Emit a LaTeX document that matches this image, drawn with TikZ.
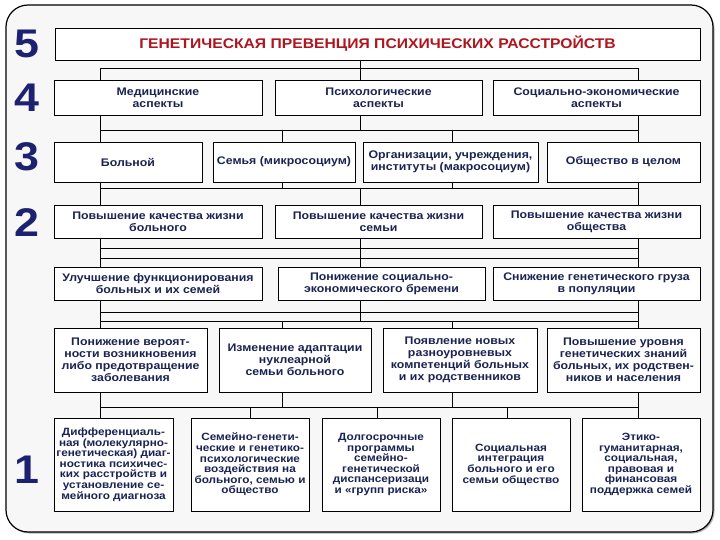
\documentclass[tikz,border=0pt]{standalone}
\usepackage{fontspec}
\setmainfont{Liberation Sans}[FakeStretch=1.12]
\usetikzlibrary{shadows}
\definecolor{navy}{HTML}{1A2352}
\definecolor{numblue}{HTML}{1C2270}
\definecolor{titlered}{HTML}{B0141E}

\begin{document}
\begin{tikzpicture}[x=1pt,y=-1pt,
  box/.style={draw=black, line width=0.7pt, fill=white, text=navy, align=center, inner sep=1pt,
    font=\bfseries\fontsize{11}{12}\selectfont,
    drop shadow={shadow xshift=1.2pt, shadow yshift=-1.2pt, fill=black!40, opacity=1}},
  small/.style={font=\bfseries\fontsize{10.5}{10.6}\selectfont},
  bus/.style={line width=0.8pt},
  lvl/.style={text=numblue, font=\bfseries\fontsize{40}{40}\selectfont}]

  \fill[white] (0,0) rectangle (720,540);
  \useasboundingbox (0,0) rectangle (720,540);
  \draw[line width=1.2pt, rounded corners=22pt, fill=black!3,
    drop shadow={shadow xshift=1.5pt, shadow yshift=-1.5pt, fill=black!30, opacity=1}] (6,5) rectangle (713,532);

  \node[lvl] (n5) at (27,44) {5};
  \node[lvl] (n4) at (27,98) {4};
  \node[lvl] (n3) at (27,157) {3};
  \node[lvl] (n2) at (27,223) {2};
  \node[lvl] (n1) at (27,470) {1};

  \node[box, minimum width=645pt, minimum height=32pt, text=titlered, font=\bfseries\fontsize{14}{14}\selectfont] (title) at (377.5,44)
    {ГЕНЕТИЧЕСКАЯ ПРЕВЕНЦИЯ ПСИХИЧЕСКИХ РАССТРОЙСТВ};

  \node[box, minimum width=208pt, minimum height=35pt] (med) at (158,97.5) {Медицинские\\аспекты};
  \node[box, minimum width=207pt, minimum height=35pt] (psy) at (378.5,97.5) {Психологические\\аспекты};
  \node[box, minimum width=207pt, minimum height=35pt] (soceco) at (596.5,97.5) {Социально-экономические\\аспекты};

  \node[box, minimum width=148pt, minimum height=40pt] (pat) at (128,162) {Больной};
  \node[box, minimum width=142pt, minimum height=40pt] (fam) at (284,162) {Семья (микросоциум)};
  \node[box, minimum width=175pt, minimum height=40pt] (inst) at (450.5,162) {Организации, учреждения,\\институты (макросоциум)};
  \node[box, minimum width=153pt, minimum height=40pt] (soc) at (623.5,162) {Общество в целом};

  \node[box, minimum width=208pt, minimum height=33pt] (q1) at (158,221.5) {Повышение качества жизни\\больного};
  \node[box, minimum width=207pt, minimum height=33pt] (q2) at (378.5,221.5) {Повышение качества жизни\\семьи};
  \node[box, minimum width=207pt, minimum height=33pt] (q3) at (596.5,221.5) {Повышение качества жизни\\общества};

  \node[box, minimum width=208pt, minimum height=33pt] (f1) at (158,283.5) {Улучшение функционирования\\больных и их семей};
  \node[box, minimum width=207pt, minimum height=33pt] (f2) at (381.5,283.5) {Понижение социально-\\экономического бремени};
  \node[box, minimum width=207pt, minimum height=33pt] (f3) at (596.5,283.5) {Снижение генетического груза\\в популяции};

  \node[box, minimum width=153pt, minimum height=64pt] (r1) at (130.5,360) {Понижение вероят-\\ности возникновения\\либо предотвращение\\заболевания};
  \node[box, minimum width=152pt, minimum height=64pt] (r2) at (295,360) {Изменение адаптации\\нуклеарной\\семьи больного};
  \node[box, minimum width=154pt, minimum height=64pt] (r3) at (460,360) {Появление новых\\разноуровневых\\компетенций больных\\и их родственников};
  \node[box, minimum width=153pt, minimum height=64pt] (r4) at (623.5,360) {Повышение уровня\\генетических знаний\\больных, их родствен-\\ников и населения};

  \node[box, small, minimum width=119pt, minimum height=93pt] (m1) at (113.5,464.5) {Дифференциаль-\\ная (молекулярно-\\генетическая) диаг-\\ностика психичес-\\ких расстройств и\\установление се-\\мейного диагноза};
  \node[box, small, minimum width=118pt, minimum height=93pt] (m2) at (250,464.5) {Семейно-генети-\\ческие и генетико-\\психологические\\воздействия на\\больного, семью и\\общество};
  \node[box, small, minimum width=118pt, minimum height=93pt] (m3) at (381,464.5) {Долгосрочные\\программы\\семейно-\\генетической\\диспансеризаци\\и «групп риска»};
  \node[box, small, minimum width=118pt, minimum height=93pt] (m4) at (511,464.5) {Социальная\\интеграция\\больного и его\\семьи общество};
  \node[box, small, minimum width=118pt, minimum height=93pt] (m5) at (641,464.5) {Этико-\\гуманитарная,\\социальная,\\правовая и\\финансовая\\поддержка семей};

  \coordinate (cL) at (100,0);
  \coordinate (cF) at (250,0);
  \coordinate (cA) at (282,0);
  \coordinate (cM) at (360,0);
  \coordinate (cG) at (377,0);
  \coordinate (cB) at (452,0);
  \coordinate (cH) at (507,0);
  \coordinate (cR) at (638,0);
  \coordinate (yT) at (0,68);
  \coordinate (yA) at (0,130);
  \coordinate (yB) at (0,188);
  \coordinate (yC) at (0,248);
  \coordinate (yC2) at (0,258);
  \coordinate (yD) at (0,312);
  \coordinate (yD2) at (0,321);
  \coordinate (yE) at (0,407);

  \draw[bus] (cL |- yT) -- (cR |- yT)
    (title.south -| cM) -- (psy.north -| cM)
    (cL |- yT) -- (med.north -| cL)
    (cR |- yT) -- (soceco.north -| cR);

  \draw[bus] (cL |- yA) -- (cR |- yA)
    (med.south -| cL) -- (pat.north -| cL)
    (psy.south -| cM) -- (cM |- yA)
    (soceco.south -| cR) -- (soc.north -| cR)
    (cA |- yA) -- (fam.north -| cA)
    (cB |- yA) -- (inst.north -| cB);

  \draw[bus] (cL |- yB) -- (cR |- yB)
    (pat.south -| cL) -- (q1.north -| cL)
    (fam.south -| cA) -- (cA |- yB)
    (inst.south -| cB) -- (cB |- yB)
    (soc.south -| cR) -- (q3.north -| cR)
    (cM |- yB) -- (q2.north -| cM);

  \draw[bus] (cL |- yC) -- (cR |- yC)
    (cL |- yC2) -- (cR |- yC2)
    (q1.south -| cL) -- (f1.north -| cL)
    (q2.south -| cM) -- (f2.north -| cM)
    (q3.south -| cR) -- (f3.north -| cR);

  \draw[bus] (cL |- yD) -- (cR |- yD)
    (cL |- yD2) -- (cR |- yD2)
    (f1.south -| cL) -- (r1.north -| cL)
    (f2.south -| cM) -- (cM |- yD2)
    (f3.south -| cR) -- (r4.north -| cR)
    (cA |- yD2) -- (r2.north -| cA)
    (cB |- yD2) -- (r3.north -| cB);

  \draw[bus] (cL |- yE) -- (cR |- yE)
    (r1.south -| cL) -- (m1.north -| cL)
    (r2.south -| cA) -- (cA |- yE)
    (r3.south -| cB) -- (cB |- yE)
    (r4.south -| cR) -- (m5.north -| cR)
    (cF |- yE) -- (m2.north -| cF)
    (cG |- yE) -- (m3.north -| cG)
    (cH |- yE) -- (m4.north -| cH);
\end{tikzpicture}
\end{document}
